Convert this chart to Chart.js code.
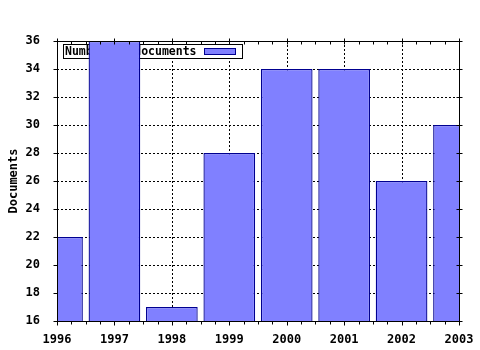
<!DOCTYPE html>
<html><head><meta charset="utf-8">
<script src="https://cdn.jsdelivr.net/npm/chart.js@4/dist/chart.umd.min.js"></script>
<style>html,body{margin:0;padding:0;background:#fff}#wrap{width:480px;height:350px}</style>
</head><body><div id="wrap"><canvas id="c" width="480" height="350"></canvas></div>
<script>
const years = [1996, 1997, 1998, 1999, 2000, 2001, 2002, 2003];
const documents = [22, 36, 17, 28, 34, 34, 26, 30];
const yTicks = [16, 18, 20, 22, 24, 26, 28, 30, 32, 34, 36];
const seriesLabel = 'Number of documents';
const yTitle = 'Documents';

const FONT = '"DejaVu Sans Mono", "Liberation Mono", monospace';

const framePlugin = {
  id: 'framePlugin',
  beforeDatasetsDraw(chart) {
    const {ctx, chartArea: a, scales: {x, y}} = chart;
    ctx.save();
    ctx.strokeStyle = '#000';
    ctx.lineWidth = 1;
    ctx.setLineDash([2, 2]);
    years.forEach(v => {
      const px = Math.round(x.getPixelForValue(v)) + 0.5;
      ctx.beginPath(); ctx.moveTo(px, a.top); ctx.lineTo(px, a.bottom); ctx.stroke();
    });
    yTicks.forEach(v => {
      const py = Math.round(y.getPixelForValue(v)) + 0.5;
      ctx.beginPath(); ctx.moveTo(a.left, py); ctx.lineTo(a.right, py); ctx.stroke();
    });
    ctx.setLineDash([]);
    // legend box
    const lx = Math.round(a.left) + 6.5, ly = Math.round(a.top) + 3.5;
    ctx.fillStyle = '#fff';
    ctx.fillRect(lx, ly, 179, 14);
    ctx.strokeRect(lx, ly, 179, 14);
    ctx.fillStyle = '#000';
    ctx.font = 'bold 11.5px ' + FONT;
    ctx.textBaseline = 'middle';
    ctx.textAlign = 'left';
    ctx.fillText(seriesLabel, lx + 1.5, ly + 7.5);
    ctx.fillStyle = '#8080ff';
    ctx.fillRect(lx + 141, ly + 4, 31, 6);
    ctx.strokeStyle = '#000090';
    ctx.strokeRect(lx + 141, ly + 4, 31, 6);
    ctx.restore();
  },
  afterDatasetsDraw(chart) {
    const {ctx, chartArea: a, scales: {x, y}} = chart;
    ctx.save();
    ctx.strokeStyle = '#000';
    ctx.lineWidth = 1;
    const L = Math.round(a.left) + 0.5, R = Math.round(a.right) + 0.5;
    const T = Math.round(a.top) + 0.5, B = Math.round(a.bottom) + 0.5;
    ctx.strokeRect(L, T, R - L, B - T);
    ctx.beginPath();
    for (let i = 0; i < years.length; i++) {
      for (let q = 0; q < 4; q++) {
        const v = years[i] + q * 0.25;
        if (v > years[years.length - 1]) break;
        const px = Math.round(x.getPixelForValue(v)) + 0.5;
        if (q === 0) {
          ctx.moveTo(px, B); ctx.lineTo(px, B + 4);
          ctx.moveTo(px, T - 3); ctx.lineTo(px, T + 3);
        } else {
          ctx.moveTo(px, B); ctx.lineTo(px, B + 3);
          ctx.moveTo(px, T); ctx.lineTo(px, T + 3);
        }
      }
    }
    yTicks.forEach(v => {
      const py = Math.round(y.getPixelForValue(v)) + 0.5;
      ctx.moveTo(L - 4, py); ctx.lineTo(L, py);
      ctx.moveTo(R - 3, py); ctx.lineTo(R + 3, py);
    });
    ctx.stroke();
    ctx.restore();
  }
};

new Chart(document.getElementById('c'), {
  type: 'bar',
  data: {
    datasets: [{
      label: seriesLabel,
      data: years.map((yr, i) => ({x: yr, y: documents[i]})),
      backgroundColor: '#8080ff',
      borderColor: '#000090',
      borderWidth: 1.3,
      borderSkipped: false,
      categoryPercentage: 1,
      barPercentage: 0.9
    }]
  },
  options: {
    responsive: false,
    animation: false,
    layout: {padding: {top: 41, right: 21, left: 0, bottom: 0}},
    plugins: {legend: {display: false}, tooltip: {enabled: false}},
    scales: {
      x: {
        type: 'linear',
        min: 1996, max: 2003,
        offset: false,
        grid: {display: false},
        border: {display: false},
        ticks: {
          stepSize: 1,
          autoSkip: false,
          maxRotation: 0,
          padding: 4,
          color: '#000',
          font: {family: FONT, size: 12, weight: 'bold'},
          callback: v => String(v)
        },
        afterFit: s => { s.height = 29; }
      },
      y: {
        min: 16, max: 36,
        grid: {display: false},
        border: {display: false},
        ticks: {
          stepSize: 2,
          padding: 9,
          color: '#000',
          font: {family: FONT, size: 12, weight: 'bold'}
        },
        title: {
          display: true,
          text: yTitle,
          color: '#000',
          font: {family: FONT, size: 12, weight: 'bold'},
          padding: {top: 7, bottom: 0}
        },
        afterFit: s => { s.width = 57; }
      }
    }
  },
  plugins: [framePlugin]
});
</script>
</body></html>
